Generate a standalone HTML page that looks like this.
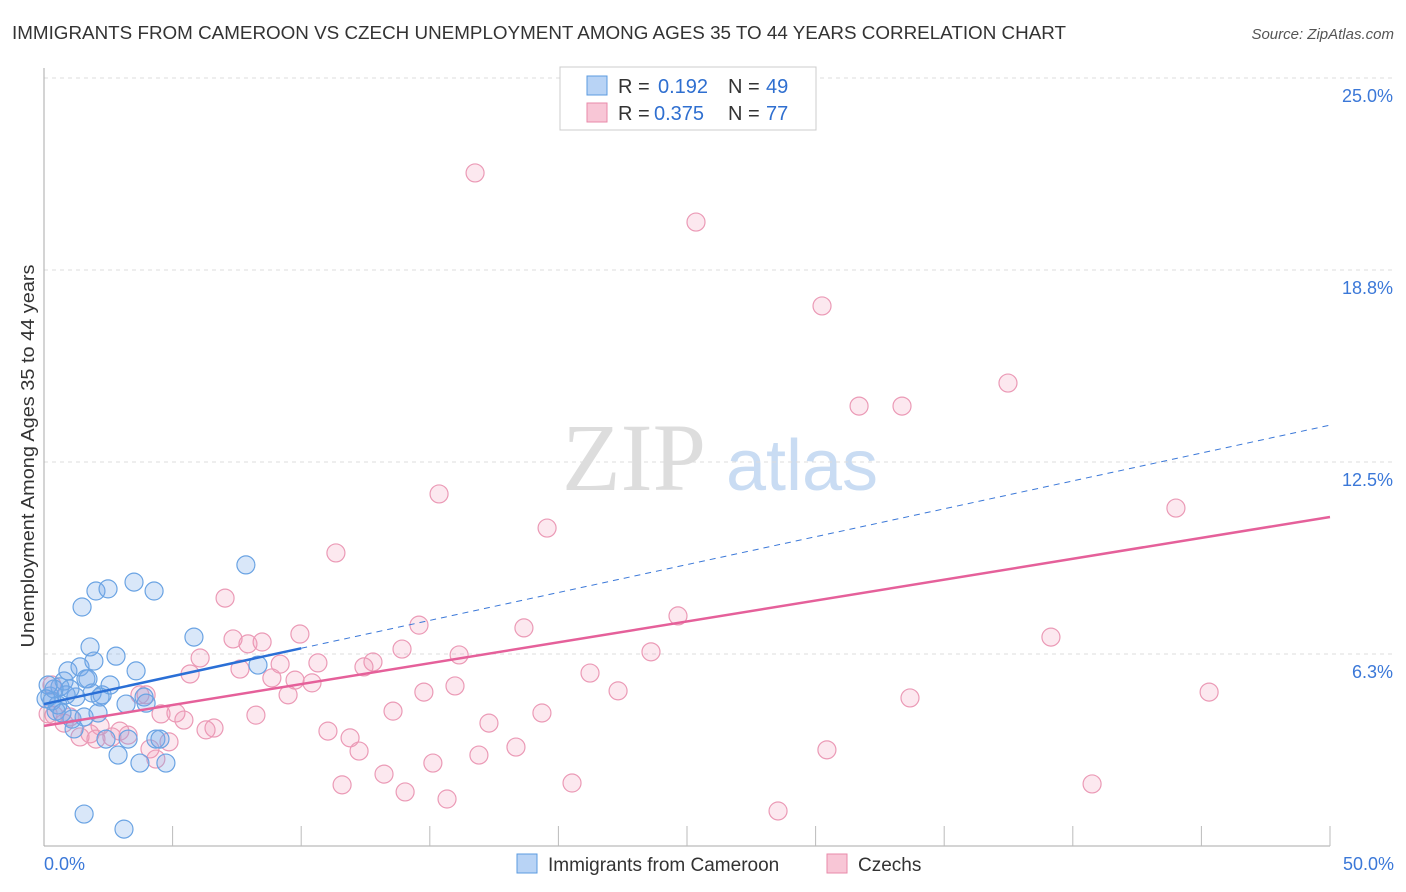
<!DOCTYPE html>
<html><head><meta charset="utf-8"><style>
body{margin:0;background:#fff;font-family:"Liberation Sans",sans-serif;}
</style></head><body>
<svg id="chart" width="1406" height="892" xmlns="http://www.w3.org/2000/svg" style="display:block">
<text x="12" y="39" font-size="18" fill="#333" textLength="1054" lengthAdjust="spacingAndGlyphs">IMMIGRANTS FROM CAMEROON VS CZECH UNEMPLOYMENT AMONG AGES 35 TO 44 YEARS CORRELATION CHART</text>
<text x="1394" y="39" font-size="15" fill="#555" text-anchor="end" font-style="italic">Source: ZipAtlas.com</text>
<text transform="translate(34,456) rotate(-90)" font-size="18" fill="#333" text-anchor="middle" textLength="383" lengthAdjust="spacingAndGlyphs">Unemployment Among Ages 35 to 44 years</text>
<g>
<text x="634" y="490" font-size="96" fill="#ddd" font-family="Liberation Serif,serif" text-anchor="middle">ZIP</text>
<text x="802" y="490" font-size="72" fill="#c9dcf3" text-anchor="middle">atlas</text>
</g>
<g id="grid"></g><g id="ticks"></g><g id="pts"></g><g id="trends"></g>
<g>
<rect x="560" y="67" width="256" height="63" fill="#fff" stroke="#ccc"/>
<rect x="587" y="76" width="20" height="19" fill="#b8d3f5" stroke="#5b9be0"/>
<text x="618" y="93" font-size="20" fill="#333">R = </text><text x="658" y="93" font-size="20" fill="#2f6fd0">0.192</text>
<text x="728" y="93" font-size="20" fill="#333">N = </text><text x="766" y="93" font-size="20" fill="#2f6fd0">49</text>
<rect x="587" y="103" width="20" height="19" fill="#f8c6d6" stroke="#e88aaa"/>
<text x="618" y="120" font-size="20" fill="#333">R = </text><text x="654" y="120" font-size="20" fill="#2f6fd0">0.375</text>
<text x="728" y="120" font-size="20" fill="#333">N = </text><text x="766" y="120" font-size="20" fill="#2f6fd0">77</text>
</g>
<g>
<rect x="517" y="854" width="20" height="19" fill="#b8d3f5" stroke="#5b9be0"/>
<text x="548" y="871" font-size="19" fill="#333">Immigrants from Cameroon</text>
<rect x="827" y="854" width="20" height="19" fill="#f8c6d6" stroke="#e88aaa"/>
<text x="858" y="871" font-size="19" fill="#333">Czechs</text>
</g>
</svg>
<script>
const yTicks=[6.25,12.5,18.75,25];
const yTickLabels=["6.3%","12.5%","18.8%","25.0%"];
const xTickLabels=["0.0%","50.0%"];
const blueX=[0.23,0.47,0.62,0.78,0.93,1.09,1.24,1.40,1.48,1.56,1.63,1.71,1.79,1.87,1.94,2.02,2.10,2.26,2.49,2.57,2.41,2.80,2.88,3.11,3.27,3.50,3.58,3.73,3.89,3.97,4.28,4.35,4.51,4.74,5.83,7.85,8.32,1.56,0.31,0.54,0.70,0.86,1.01,0.39,0.16,0.08,1.17,2.18,3.19];
const blueY=[4.88,4.39,5.18,5.37,5.70,4.13,4.85,5.83,7.78,4.20,5.44,5.44,6.48,4.98,6.02,8.30,4.33,4.92,8.37,5.24,3.48,6.18,2.96,0.55,3.48,8.59,5.70,2.70,4.85,4.65,8.30,3.48,3.48,2.70,6.80,9.15,5.89,1.04,4.72,4.59,4.33,4.92,5.11,5.11,5.24,4.79,3.81,4.85,4.62];
const pinkX=[16.76,25.35,30.25,37.48,31.69,33.36,15.36,19.56,44.01,11.35,7.04,24.65,14.58,18.66,39.15,9.95,7.35,8.48,7.93,23.60,13.92,16.14,12.79,10.65,6.07,9.18,12.44,7.62,21.23,5.68,8.86,9.76,10.42,15.98,3.97,9.49,14.77,22.32,45.30,33.67,3.73,5.13,4.55,8.24,13.57,19.36,17.30,5.44,6.61,6.30,2.18,2.95,3.27,1.79,1.40,11.04,11.90,4.86,2.02,2.64,4.12,4.35,12.25,18.35,16.91,30.44,15.12,13.22,11.59,20.53,40.75,14.04,15.67,28.54,0.39,0.78,1.01,0.31,0.16];
const pinkY=[21.91,20.31,17.58,15.07,14.32,14.32,11.46,10.35,11.00,9.54,8.07,7.49,7.19,7.10,6.80,6.90,6.74,6.64,6.58,6.32,6.41,6.22,5.99,5.96,6.12,5.92,5.83,5.76,5.63,5.60,5.47,5.40,5.31,5.21,4.92,4.92,5.01,5.05,5.01,4.82,4.92,4.33,4.30,4.26,4.39,4.33,4.00,4.10,3.84,3.78,3.91,3.74,3.61,3.65,3.55,3.74,3.52,3.39,3.48,3.55,3.16,2.83,3.09,3.22,2.96,3.13,2.70,2.34,1.99,2.05,2.02,1.76,1.53,1.14,4.26,4.00,4.20,5.24,4.30];
const blueTrend=[4.62,13.7];
const pinkTrend=[3.91,10.71];
const NS="http://www.w3.org/2000/svg";
const X0=44,X1=1330,Y0=846,PXV=30.72;
const sx=v=>X0+(v/50)*(X1-X0);
const sy=v=>Y0-v*PXV;
function mk(tag,attrs,parent){const e=document.createElementNS(NS,tag);for(const k in attrs)e.setAttribute(k,attrs[k]);document.getElementById(parent).appendChild(e);return e;}
yTicks.forEach((t,i)=>{
 let l=mk('line',{x1:X0,x2:1394,y1:sy(t),y2:sy(t),stroke:'#ddd','stroke-dasharray':'4,4'},'grid');
 
 
 let tx=mk('text',{x:1393,y:sy(t)+24,'font-size':18,fill:'#3b78d8','text-anchor':'end'},'grid');
 tx.textContent=yTickLabels[i];
 
 
});
let ax=mk('line',{x1:X0,x2:X1,y1:Y0,y2:Y0,stroke:'#aaa'},'ticks');


let ay=mk('line',{x1:X0,x2:X0,y1:68,y2:Y0,stroke:'#aaa'},'ticks');


for(let i=1;i<=10;i++){let t=mk('line',{x1:sx(i*5),x2:sx(i*5),y1:Y0-20,y2:Y0,stroke:'#bbb'},'ticks');
 
 }
[[0,'start',44],[50,'end',1394]].forEach((a,i)=>{let t=mk('text',{x:a[2],y:870,'font-size':18,fill:'#3b78d8','text-anchor':a[1]},'ticks');t.textContent=xTickLabels[i];
 
 });
pinkX.forEach((x,i)=>{let c=mk('circle',{cx:sx(x),cy:sy(pinkY[i]),r:9,fill:'rgba(240,150,180,0.22)',stroke:'#eb9ab6','stroke-width':1.2},'pts');
 
 });
blueX.forEach((x,i)=>{let c=mk('circle',{cx:sx(x),cy:sy(blueY[i]),r:9,fill:'rgba(120,170,235,0.28)',stroke:'#6aa3e3','stroke-width':1.2},'pts');
 
 });
const bAt=x=>blueTrend[0]+(blueTrend[1]-blueTrend[0])*x/50;
let bd=mk('line',{x1:sx(10),y1:sy(bAt(10)),x2:sx(50),y2:sy(bAt(50)),stroke:'#3b78d8','stroke-width':1,'stroke-dasharray':'6,5'},'trends');


let bs=mk('line',{x1:sx(0),y1:sy(bAt(0)),x2:sx(10),y2:sy(bAt(10)),stroke:'#2a6fd6','stroke-width':2.5},'trends');


let ps=mk('line',{x1:sx(0),y1:sy(pinkTrend[0]),x2:sx(50),y2:sy(pinkTrend[1]),stroke:'#e5609a','stroke-width':2.5},'trends');


</script>
</body></html>
